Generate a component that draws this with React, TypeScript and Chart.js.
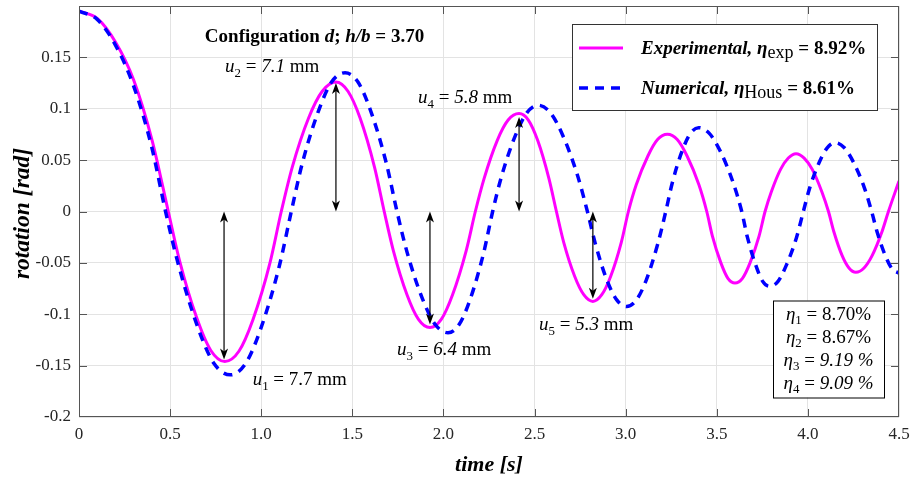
import React, { useEffect, useRef } from 'react';
import { Chart, registerables } from 'chart.js';

Chart.register(...registerables);

const FONT = '"Liberation Serif", "Times New Roman", Times, serif';

// ---- data ----
const expTime = [0, 0.1, 0.2, 0.3, 0.4, 0.49, 0.552, 0.645, 0.7225, 0.80, 0.8775, 0.955, 1.048, 1.11, 1.17, 1.26, 1.335, 1.41, 1.476, 1.5425, 1.622, 1.675, 1.725, 1.80, 1.863, 1.926, 1.988, 2.05, 2.125, 2.175, 2.223, 2.295, 2.355, 2.415, 2.466, 2.5175, 2.579, 2.62, 2.66, 2.72, 2.77, 2.82, 2.869, 2.918, 2.976, 3.015, 3.058, 3.122, 3.175, 3.229, 3.283, 3.337, 3.402, 3.445, 3.476, 3.5225, 3.561, 3.60, 3.641, 3.6825, 3.732, 3.765, 3.799, 3.85, 3.8925, 3.935, 3.9795, 4.024, 4.077, 4.113, 4.143, 4.188, 4.2255, 4.263, 4.308, 4.3525, 4.406, 4.442, 4.5];
const expRotation = [0.195, 0.188, 0.165, 0.128, 0.07, 0, -0.048, -0.103, -0.135, -0.146, -0.136, -0.105, -0.050, 0, 0.043, 0.091, 0.117, 0.126, 0.117, 0.091, 0.043, 0, -0.038, -0.081, -0.105, -0.113, -0.105, -0.081, -0.038, 0, 0.032, 0.069, 0.089, 0.0953, 0.089, 0.069, 0.032, 0, -0.030, -0.063, -0.081, -0.0875, -0.081, -0.063, -0.030, 0, 0.026, 0.054, 0.070, 0.0751, 0.070, 0.054, 0.026, 0, -0.024, -0.050, -0.065, -0.0696, -0.065, -0.050, -0.024, 0, 0.019, 0.041, 0.052, 0.0563, 0.052, 0.041, 0.019, 0, -0.020, -0.043, -0.055, -0.0592, -0.055, -0.043, -0.020, 0, 0.0296];

const numTime = [0, 0.1, 0.2, 0.3, 0.4, 0.475, 0.546, 0.6525, 0.741, 0.83, 0.914, 0.9975, 1.098, 1.165, 1.224, 1.3125, 1.386, 1.46, 1.531, 1.6025, 1.688, 1.745, 1.801, 1.885, 1.955, 2.025, 2.086, 2.1475, 2.221, 2.27, 2.32, 2.395, 2.4575, 2.52, 2.5875, 2.655, 2.736, 2.79, 2.833, 2.8975, 2.951, 3.005, 3.059, 3.1125, 3.177, 3.22, 3.256, 3.31, 3.355, 3.40, 3.459, 3.5185, 3.59, 3.637, 3.668, 3.7135, 3.752, 3.79, 3.836, 3.8825, 3.938, 3.975, 4.01, 4.0625, 4.106, 4.15, 4.20, 4.25, 4.31, 4.35, 4.38, 4.425, 4.4625, 4.5];
const numRotation = [0.195, 0.187, 0.162, 0.122, 0.062, 0, -0.052, -0.113, -0.148, -0.159, -0.148, -0.114, -0.054, 0, 0.046, 0.097, 0.126, 0.135, 0.126, 0.097, 0.046, 0, -0.040, -0.085, -0.110, -0.118, -0.110, -0.085, -0.040, 0, 0.035, 0.074, 0.096, 0.1034, 0.096, 0.074, 0.035, 0, -0.031, -0.067, -0.086, -0.0924, -0.086, -0.067, -0.031, 0, 0.028, 0.059, 0.076, 0.0816, 0.076, 0.059, 0.028, 0, -0.025, -0.052, -0.068, -0.0728, -0.068, -0.052, -0.025, 0, 0.023, 0.048, 0.062, 0.067, 0.062, 0.048, 0.023, 0, -0.020, -0.043, -0.056, -0.060];

const xTickValues = [0, 0.5, 1, 1.5, 2, 2.5, 3, 3.5, 4, 4.5];
const xTickLabels = ['0', '0.5', '1.0', '1.5', '2.0', '2.5', '3.0', '3.5', '4.0', '4.5'];
const yTickValues = [-0.2, -0.15, -0.1, -0.05, 0, 0.05, 0.1, 0.15];
const yTickLabels = ['-0.2', '-0.15', '-0.1', '-0.05', '0', '0.05', '0.1', '0.15'];

// double arrows: from rotation 0 to the measured amplitude
const arrowTime = [0.796, 1.41, 1.926, 2.415, 2.82];
const arrowTip = [-0.144, 0.125, -0.110, 0.092, -0.085];

// displacement labels
const uNames = ['1', '2', '3', '4', '5'];
const uValues = ['7.7', '7.1', '6.4', '5.8', '5.3'];
const uItalic = [false, true, true, true, true];
const uAnchorTime = [0.953, 0.801, 1.745, 1.861, 2.525];
const uAnchorRot = [-0.1688, 0.1356, -0.1395, 0.1054, -0.1151];

const etaNames = ['1', '2', '3', '4'];
const etaValues = ['8.70%', '8.67%', '9.19 %', '9.09 %'];
const etaItalic = [false, false, true, true];

const seriesNames = ['Experimental, ', 'Numerical, '];
const seriesEtaSub = ['exp', 'Hous'];
const seriesEtaVal = [' = 8.92%', ' = 8.61%'];

type Seg = { t: string; it?: boolean; b?: boolean; sub?: number; dy?: number };

function segFont(s: Seg, size: number) {
  const sz = s.sub ? size * s.sub : size;
  return `${s.it ? 'italic ' : ''}${s.b ? 'bold ' : ''}${sz}px ${FONT}`;
}

function drawRich(ctx: CanvasRenderingContext2D, segs: Seg[], x: number, y: number, size: number, align: 'left' | 'center') {
  let total = 0;
  const ws = segs.map((s) => {
    ctx.font = segFont(s, size);
    const w = ctx.measureText(s.t).width;
    total += w;
    return w;
  });
  let cx = align === 'center' ? x - total / 2 : x;
  ctx.textAlign = 'left';
  ctx.textBaseline = 'alphabetic';
  segs.forEach((s, i) => {
    ctx.font = segFont(s, size);
    ctx.fillText(s.t, cx, y + (s.dy ?? 0));
    cx += ws[i];
  });
}

function head(ctx: CanvasRenderingContext2D, x: number, y: number, dir: number) {
  ctx.beginPath();
  ctx.moveTo(x, y);
  ctx.lineTo(x - 4, y - dir * 11);
  ctx.lineTo(x, y - dir * 8);
  ctx.lineTo(x + 4, y - dir * 11);
  ctx.closePath();
  ctx.fill();
}

const overlay = {
  id: 'overlay',
  afterDraw(chart: any) {
    const ctx: CanvasRenderingContext2D = chart.ctx;
    const xs = chart.scales.x;
    const ys = chart.scales.y;
    const a = chart.chartArea;
    ctx.save();

    // frame + inward ticks
    ctx.strokeStyle = '#555';
    ctx.lineWidth = 1;
    ctx.strokeRect(a.left + 0.5, a.top + 0.5, a.right - a.left - 1, a.bottom - a.top - 1);
    ctx.beginPath();
    xTickValues.forEach((v) => {
      if (v <= 0 || v >= 4.5) return;
      const px = Math.round(xs.getPixelForValue(v)) + 0.5;
      ctx.moveTo(px, a.bottom);
      ctx.lineTo(px, a.bottom - 8);
      ctx.moveTo(px, a.top);
      ctx.lineTo(px, a.top + 8);
    });
    yTickValues.forEach((v) => {
      if (v <= -0.2) return;
      const py = Math.round(ys.getPixelForValue(v)) + 0.5;
      ctx.moveTo(a.left, py);
      ctx.lineTo(a.left + 8, py);
      ctx.moveTo(a.right, py);
      ctx.lineTo(a.right - 8, py);
    });
    ctx.stroke();

    // arrows
    ctx.strokeStyle = '#000';
    ctx.fillStyle = '#000';
    ctx.lineWidth = 1.2;
    arrowTime.forEach((t, i) => {
      const px = xs.getPixelForValue(t);
      const y0 = ys.getPixelForValue(0);
      const y1 = ys.getPixelForValue(arrowTip[i]);
      const top = Math.min(y0, y1);
      const bot = Math.max(y0, y1);
      ctx.beginPath();
      ctx.moveTo(px, top + 4);
      ctx.lineTo(px, bot - 4);
      ctx.stroke();
      head(ctx, px, top, -1);
      head(ctx, px, bot, 1);
    });

    // axis titles
    ctx.fillStyle = '#000';
    ctx.textAlign = 'center';
    ctx.textBaseline = 'alphabetic';
    ctx.font = `italic bold 22px ${FONT}`;
    ctx.fillText('time [s]', (a.left + a.right) / 2, 471);
    ctx.save();
    ctx.font = `italic bold 23.5px ${FONT}`;
    ctx.translate(29, (a.top + a.bottom) / 2 + 2);
    ctx.rotate(-Math.PI / 2);
    ctx.fillText('rotation [rad]', 0, 0);
    ctx.restore();

    // configuration title
    drawRich(ctx, [
      { t: 'Configuration ', b: true },
      { t: 'd', b: true, it: true },
      { t: '; ', b: true },
      { t: 'h/b', b: true, it: true },
      { t: ' = 3.70', b: true },
    ], xs.getPixelForValue(1.2925), ys.getPixelForValue(0.1652), 19, 'center');

    // u labels
    uNames.forEach((n, i) => {
      drawRich(ctx, [
        { t: 'u', it: true },
        { t: n, sub: 0.68, dy: 5 },
        { t: ' = ' },
        { t: uValues[i], it: uItalic[i] },
        { t: ' mm' },
      ], xs.getPixelForValue(uAnchorTime[i]), ys.getPixelForValue(uAnchorRot[i]), 19, 'left');
    });

    // legend box
    const lx = a.right - 327;
    const ly = a.top + 18;
    ctx.fillStyle = '#fff';
    ctx.fillRect(lx, ly, 305, 86);
    ctx.strokeStyle = '#333';
    ctx.lineWidth = 1;
    ctx.strokeRect(lx + 0.5, ly + 0.5, 305, 86);
    const colors = ['#ff00ff', '#0000ff'];
    const dashes = [[], [9, 7]];
    [0, 1].forEach((i) => {
      const yy = ly + 24 + i * 40;
      ctx.strokeStyle = colors[i];
      ctx.lineWidth = i === 0 ? 3 : 3.5;
      ctx.setLineDash(dashes[i]);
      ctx.beginPath();
      ctx.moveTo(lx + 7, yy);
      ctx.lineTo(lx + 51, yy);
      ctx.stroke();
      ctx.setLineDash([]);
      ctx.fillStyle = '#000';
      drawRich(ctx, [
        { t: seriesNames[i], b: true, it: true },
        { t: 'η', b: true, it: true },
        { t: seriesEtaSub[i], sub: 0.95, dy: 4 },
        { t: seriesEtaVal[i], b: true },
      ], lx + 69, yy + 5.5, 19, 'left');
    });

    // eta box
    const ex = a.right - 126;
    const ey = 300.5;
    ctx.fillStyle = '#fff';
    ctx.fillRect(ex, ey, 111, 97);
    ctx.strokeStyle = '#000';
    ctx.lineWidth = 1;
    ctx.strokeRect(ex + 0.5, ey + 0.5, 111, 97);
    ctx.fillStyle = '#000';
    etaNames.forEach((n, i) => {
      drawRich(ctx, [
        { t: 'η', it: true },
        { t: n, sub: 0.68, dy: 4 },
        { t: ' = ' },
        { t: etaValues[i], it: etaItalic[i] },
      ], ex + 55.5, ey + 19 + i * 23, 19, 'center');
    });

    ctx.restore();
  },
};

export default function App() {
  const ref = useRef<HTMLCanvasElement>(null);
  useEffect(() => {
    const findLabel = (vals: number[], labels: string[], v: number) => {
      const i = vals.findIndex((t) => Math.abs(t - v) < 1e-6);
      return i >= 0 ? labels[i] : '';
    };
    const chart = new Chart(ref.current as HTMLCanvasElement, {
      type: 'line',
      data: {
        datasets: [
          {
            label: 'Experimental',
            data: expTime.map((t, i) => ({ x: t, y: expRotation[i] })),
            borderColor: '#ff00ff',
            borderWidth: 3,
            cubicInterpolationMode: 'monotone',
            pointRadius: 0,
            fill: false,
            order: 1,
          },
          {
            label: 'Numerical',
            data: numTime.map((t, i) => ({ x: t, y: numRotation[i] })),
            borderColor: '#0000ff',
            borderWidth: 3.5,
            borderDash: [9, 7],
            cubicInterpolationMode: 'monotone',
            pointRadius: 0,
            fill: false,
            order: 0,
          },
        ],
      },
      options: {
        animation: false,
        responsive: false,
        devicePixelRatio: 1,
        layout: { padding: { left: 0, top: 6, right: 17, bottom: 0 } },
        plugins: { legend: { display: false }, tooltip: { enabled: false } },
        scales: {
          x: {
            type: 'linear',
            min: 0,
            max: 4.5,
            afterFit: (s: any) => {
              s.height = 60;
              s.paddingLeft = 0;
              s.paddingRight = 0;
            },
            ticks: {
              stepSize: 0.5,
              padding: 7,
              color: '#262626',
              maxRotation: 0,
              autoSkip: false,
              font: { family: FONT, size: 17 },
              callback: (v: any) => findLabel(xTickValues, xTickLabels, Number(v)),
            },
            grid: { color: '#e3e3e3', drawTicks: false },
            border: { display: false },
          },
          y: {
            type: 'linear',
            min: -0.2,
            max: 0.2,
            afterFit: (s: any) => {
              s.width = 79;
              s.paddingTop = 0;
              s.paddingBottom = 0;
            },
            ticks: {
              stepSize: 0.05,
              padding: 8,
              color: '#262626',
              autoSkip: false,
              font: { family: FONT, size: 17 },
              callback: (v: any) => findLabel(yTickValues, yTickLabels, Number(v)),
            },
            grid: { color: '#e3e3e3', drawTicks: false },
            border: { display: false },
          },
        },
      },
      plugins: [overlay],
    } as any);
    return () => chart.destroy();
  }, []);
  return (
    <div style={{ position: 'fixed', left: 0, top: 0, width: 916, height: 477, background: '#fff' }}>
      <canvas ref={ref} width={916} height={477} style={{ display: 'block' }} />
    </div>
  );
}
